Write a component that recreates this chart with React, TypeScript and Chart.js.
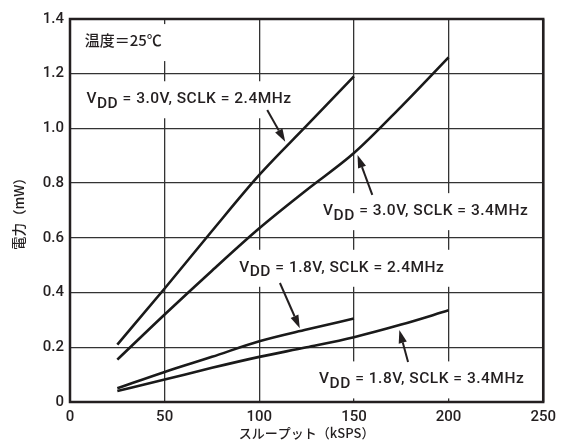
import { useEffect, useRef } from "react";
import { Chart, registerables } from "chart.js";

Chart.register(...registerables);

// throughput (kSPS)
const throughputShort = [25, 50, 75, 100, 125, 150];
const throughputLong = [25, 50, 75, 100, 125, 150, 175, 200];

// power (mW)
const power30v24 = [0.21, 0.415, 0.625, 0.83, 1.01, 1.19];
const power30v34 = [0.155, 0.32, 0.48, 0.635, 0.775, 0.91, 1.08, 1.26];
const power18v24 = [0.05, 0.11, 0.165, 0.222, 0.265, 0.305];
const power18v34 = [0.04, 0.082, 0.125, 0.165, 0.2, 0.237, 0.283, 0.335];

const xTitle = "スループット（kSPS）";
const yTitle = "電力（mW）";
const tempText = "温度＝25℃";

// annotation texts: "V" + sub "DD" + rest
const noteRest = [
  " = 3.0V, SCLK = 2.4MHz",
  " = 3.0V, SCLK = 3.4MHz",
  " = 1.8V, SCLK = 2.4MHz",
  " = 1.8V, SCLK = 3.4MHz",
];
// text anchor (left, baseline) in data units
const noteX = [8.7, 133.7, 89.4, 131.6];
const noteY = [1.092, 0.683, 0.476, 0.068];
// arrows (tail -> tip) in data units
const arrowTailX = [104.2, 159.7, 110.9, 178.6];
const arrowTailY = [1.067, 0.757, 0.435, 0.146];
const arrowTipX = [113.7, 151.9, 121.4, 174.0];
const arrowTipY = [0.951, 0.903, 0.27, 0.263];
const tempX = 7.8;
const tempY = 1.301;

const INK = "#231f20";
const LATIN = 'Roboto, "Liberation Sans", Arial, sans-serif';
const CJK = '"Noto Sans CJK JP", sans-serif';

function pts(xs: number[], ys: number[]) {
  return xs.map((x, i) => ({ x, y: ys[i] }));
}

const notesPlugin = {
  id: "notes",
  beforeDatasetsDraw(chart: any) {
    const { ctx } = chart;
    const xs = chart.scales.x;
    const ys = chart.scales.y;
    ctx.save();
    ctx.textBaseline = "alphabetic";
    ctx.textAlign = "left";
    {
      const px = xs.getPixelForValue(tempX);
      const py = ys.getPixelForValue(tempY);
      ctx.font = `500 15px ${CJK}`;
      const w = ctx.measureText(tempText).width;
      ctx.fillStyle = "#fff";
      ctx.fillRect(px - 6, py - 22, w + 12, 37);
      ctx.fillStyle = INK;
      ctx.fillText(tempText, px, py);
    }
    try {
      (ctx as any).letterSpacing = "0.5px";
    } catch (e) {
      /* ignore */
    }
    for (let i = 0; i < noteRest.length; i++) {
      const px = xs.getPixelForValue(noteX[i]);
      const py = ys.getPixelForValue(noteY[i]);
      ctx.font = `500 15.5px ${LATIN}`;
      const wV = ctx.measureText("V").width;
      const wD = ctx.measureText("DD").width;
      const wR = ctx.measureText(noteRest[i]).width;
      const w = wV + wD + wR;
      ctx.fillStyle = "#fff";
      ctx.fillRect(px - 6, py - 22, w + 12, 37);
      ctx.fillStyle = INK;
      ctx.fillText("V", px, py);
      ctx.fillText("DD", px + wV, py + 4.5);
      ctx.fillText(noteRest[i], px + wV + wD, py);
    }
    ctx.restore();
  },
  afterDatasetsDraw(chart: any) {
    const { ctx, chartArea } = chart;
    const xs = chart.scales.x;
    const ys = chart.scales.y;
    ctx.save();
    ctx.strokeStyle = INK;
    ctx.fillStyle = INK;
    for (let i = 0; i < arrowTailX.length; i++) {
      const x0 = xs.getPixelForValue(arrowTailX[i]);
      const y0 = ys.getPixelForValue(arrowTailY[i]);
      const x1 = xs.getPixelForValue(arrowTipX[i]);
      const y1 = ys.getPixelForValue(arrowTipY[i]);
      const ang = Math.atan2(y1 - y0, x1 - x0);
      const hl = 13;
      const hw = 4.2;
      const bx = x1 - hl * Math.cos(ang);
      const by = y1 - hl * Math.sin(ang);
      ctx.lineWidth = 2;
      ctx.beginPath();
      ctx.moveTo(x0, y0);
      ctx.lineTo(bx, by);
      ctx.stroke();
      ctx.beginPath();
      ctx.moveTo(x1, y1);
      ctx.lineTo(bx + hw * Math.sin(ang), by - hw * Math.cos(ang));
      ctx.lineTo(bx - hw * Math.sin(ang), by + hw * Math.cos(ang));
      ctx.closePath();
      ctx.fill();
    }
    ctx.lineWidth = 2.5;
    ctx.strokeRect(
      chartArea.left,
      chartArea.top,
      chartArea.right - chartArea.left,
      chartArea.bottom - chartArea.top
    );
    ctx.restore();
  },
};

export default function App() {
  const ref = useRef<HTMLCanvasElement | null>(null);
  useEffect(() => {
    if (!ref.current) return;
    const lineStyle = {
      borderColor: "#1a1a1a",
      borderWidth: 2.6,
      pointRadius: 0,
      fill: false,
      cubicInterpolationMode: "monotone" as const,
    };
    const chart = new Chart(ref.current, {
      type: "line",
      data: {
        datasets: [
          { label: "3.0V 2.4MHz", data: pts(throughputShort, power30v24), ...lineStyle },
          { label: "3.0V 3.4MHz", data: pts(throughputLong, power30v34), ...lineStyle },
          { label: "1.8V 2.4MHz", data: pts(throughputShort, power18v24), ...lineStyle },
          { label: "1.8V 3.4MHz", data: pts(throughputLong, power18v34), ...lineStyle },
        ],
      },
      options: {
        animation: false,
        responsive: true,
        maintainAspectRatio: false,
        layout: { padding: { top: 19, right: 12, bottom: 0, left: 0 } },
        plugins: {
          legend: { display: false },
          tooltip: { enabled: false },
        },
        scales: {
          x: {
            type: "linear",
            min: 0,
            max: 250,
            ticks: {
              stepSize: 50,
              padding: 6,
              maxRotation: 0,
              color: INK,
              font: { family: LATIN, size: 15, weight: "500" },
            },
            grid: { color: "#333", lineWidth: 1.3, drawTicks: false },
            border: { display: false },
            title: {
              display: true,
              text: xTitle,
              color: INK,
              font: { family: CJK, size: 13, weight: "500" },
              padding: { top: 0, bottom: 1 },
            },
            afterFit: (s: any) => {
              s.height = 40;
            },
          },
          y: {
            type: "linear",
            min: 0,
            max: 1.4,
            ticks: {
              stepSize: 0.2,
              padding: 6,
              color: INK,
              font: { family: LATIN, size: 15, weight: "500" },
              callback: (v: any) => (Number(v) === 0 ? "0" : Number(v).toFixed(1)),
            },
            grid: { color: "#333", lineWidth: 1.3, drawTicks: false },
            border: { display: false },
            title: {
              display: true,
              text: yTitle,
              color: INK,
              font: { family: CJK, size: 13.5, weight: "500" },
              padding: { top: 11, bottom: 0 },
            },
            afterFit: (s: any) => {
              s.width = 70;
            },
          },
        },
      },
      plugins: [notesPlugin],
    });
    return () => chart.destroy();
  }, []);
  return (
    <div style={{ position: "fixed", left: 0, top: 0, width: 562, height: 442, background: "#fff" }}>
      <canvas ref={ref} />
    </div>
  );
}
